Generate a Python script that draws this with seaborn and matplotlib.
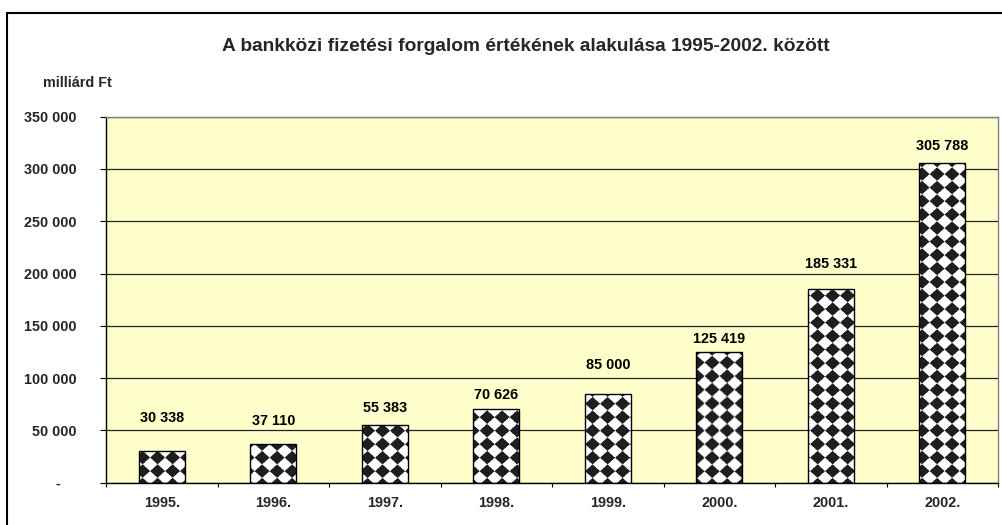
"""
Interbank payment turnover 1995-2002, Excel-style bar chart with diamond fill.
"""
import matplotlib
matplotlib.use("Agg")
import matplotlib.pyplot as plt
import matplotlib.patches as mpatches
import seaborn as sns
import pandas as pd
import numpy as np

# data
years = ["1995.", "1996.", "1997.", "1998.", "1999.", "2000.", "2001.", "2002."]
values = [30338, 37110, 55383, 70626, 85000, 125419, 185331, 305788]
y_ticks = [0, 50000, 100000, 150000, 200000, 250000, 300000, 350000]

title = "A bankközi fizetési forgalom értékének alakulása 1995-2002. között"
unit_label = "milliárd Ft"

# label offsets above the bar tops (pixels), as placed in the original
label_offsets = [29, 19, 13, 10, 25, 9, 21, 13]


def fmt(v):
    return f"{v:,.0f}".replace(",", " ")


sns.set_theme(style="white")
plt.rcParams["font.family"] = ["Liberation Sans", "DejaVu Sans"]
plt.rcParams["font.weight"] = "bold"

FS = 10.4  # small text size

W, H, DPI = 1002, 525, 100
fig = plt.figure(figsize=(W / DPI, H / DPI), dpi=DPI)
fig.patch.set_facecolor("white")
ax = fig.add_axes([106 / W, (H - 482.7) / H, 892 / W, 366 / H])
ax.set_facecolor("#FFFFCC")

df = pd.DataFrame({"year": years, "value": values})
sns.barplot(data=df, x="year", y="value", color="white", width=0.41,
            edgecolor="black", linewidth=1.0, saturation=1, ax=ax)

ax.set_xlim(-0.5, len(years) - 0.5)
ax.set_ylim(0, 350000)

# gridlines
ax.set_axisbelow(True)
ax.yaxis.grid(True, color="#222222", linewidth=0.9)
ax.xaxis.grid(False)

# y axis ticks and labels
ax.set_yticks(y_ticks)
ax.set_yticklabels(["-    " if v == 0 else fmt(v) for v in y_ticks],
                   fontsize=FS, fontweight="bold")
ax.tick_params(axis="y", which="major", direction="out", length=4.3, width=0.8,
               color="black", pad=17, left=True)

# x axis: labels under categories, ticks on boundaries
ax.set_xticks(range(len(years)))
ax.set_xticklabels(years, fontsize=FS, fontweight="bold")
ax.set_xticks(np.arange(-0.5, len(years), 1.0), minor=True)
ax.tick_params(axis="x", which="major", length=0, pad=9.5)
ax.tick_params(axis="x", which="minor", direction="out", length=3, width=0.8,
               color="black", bottom=True)
ax.set_xlabel("")
ax.set_ylabel("")

for side in ["left", "bottom"]:
    ax.spines[side].set_color("black")
    ax.spines[side].set_linewidth(1.0)
for side in ["top", "right"]:
    ax.spines[side].set_color("#808080")
    ax.spines[side].set_linewidth(1.0)

# diamond (rotated checkerboard) fill for each bar, anchored to figure pixels
px_x, px_y = 15.0, 13.5
ss = 3  # supersampling
bars = list(ax.patches)
for bar in bars:
    x0, y0 = bar.get_x(), bar.get_y()
    x1, y1 = x0 + bar.get_width(), y0 + bar.get_height()
    (dx0, dy0), (dx1, dy1) = ax.transData.transform([(x0, y0), (x1, y1)])
    nx = max(int(round(dx1 - dx0)), 1)
    ny = max(int(round(dy1 - dy0)), 1)
    xs = dx0 + (np.arange(nx * ss) + 0.5) / ss
    ys = dy1 - (np.arange(ny * ss) + 0.5) / ss
    X, Y = np.meshgrid(xs, ys)
    s = X / px_x + Y / px_y
    t = X / px_x - Y / px_y
    black = ((np.floor(s) + np.floor(t)) % 2 == 0).astype(float)
    img = 1.0 - black.reshape(ny, ss, nx, ss).mean(axis=(1, 3))
    img = 0.12 + 0.88 * img
    im = ax.imshow(img, cmap="gray", vmin=0, vmax=1, extent=(x0, x1, y0, y1),
                   aspect="auto", interpolation="bilinear", zorder=2)
    im.set_clip_path(bar)
    bar.set_facecolor("none")
    bar.set_zorder(3)

ax.set_xlim(-0.5, len(years) - 0.5)
ax.set_ylim(0, 350000)

# value labels
for i, (v, off) in enumerate(zip(values, label_offsets)):
    ax.annotate(fmt(v), xy=(i, v), xytext=(0, off), textcoords="offset pixels",
                ha="center", va="baseline", fontsize=FS, fontweight="bold",
                color="black", zorder=4)

fig.text(526 / W, (H - 51) / H, title, ha="center", va="baseline",
         fontsize=13.8, fontweight="bold")
fig.text(43 / W, (H - 87) / H, unit_label, ha="left", va="baseline",
         fontsize=FS, fontweight="bold")

# outer chart frame (right and bottom edges fall outside the image)
frame = mpatches.Rectangle((6.5 / W, -0.1), 1.2, (H - 12.7) / H + 0.1,
                           transform=fig.transFigure, fill=False,
                           edgecolor="black", linewidth=1.5)
fig.patches.append(frame)

fig.savefig("out.png", dpi=DPI)
